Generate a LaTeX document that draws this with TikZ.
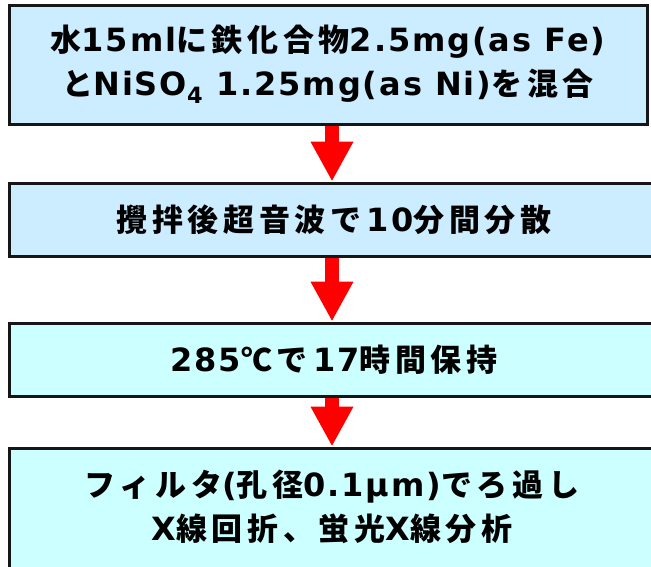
\documentclass[tikz,border=0pt]{standalone}
\usepackage{fontspec}
\setmainfont{DejaVu Sans}[LetterSpace=6]
\newfontfamily\jp{Noto Sans CJK JP}[LetterSpace=15]
\newcommand\J[1]{{\jp\fontsize{31}{44}\selectfont #1}}
\usetikzlibrary{arrows.meta,backgrounds}
\definecolor{boxblue}{HTML}{CCECFF}
\definecolor{boxcyan}{HTML}{CCFFFF}
\definecolor{edge}{HTML}{161616}
\tikzset{
  stepfont/.style={font=\bfseries\fontsize{32}{44}\selectfont},
  stepbox/.style={draw=edge, line width=3pt, align=center, inner sep=0pt, stepfont},
  blockarrow/.style={draw=red, line width=14pt,
    -{Triangle[width=40pt,length=40pt,fill=red]}}
}
\begin{document}
\begin{tikzpicture}[x=1pt,y=-1pt]
\useasboundingbox (0,0) rectangle (651,566);
\clip (0,0) rectangle (651,566);
\node[stepbox, fill=boxblue, minimum width=638pt, minimum height=119pt] (b1) at (328,64.5)
  {\J{水}15ml\J{に鉄化合物}2.5mg(as Fe)\\\J{と}NiSO\textsubscript{4} 1.25mg(as Ni)\J{を混合}};
\node[stepbox, fill=boxblue, minimum width=650pt, minimum height=73pt] (b2) at (334,219.5)
  {\J{攪拌後超音波で}\,10\J{分間分散}};
\node[stepbox, fill=boxcyan, minimum width=650pt, minimum height=73pt] (b3) at (334,359.5)
  {285\J{℃で}\,17\J{時間保持}};
\node[stepbox, fill=boxcyan, minimum width=650pt, minimum height=140pt] (b4) at (334,518)
  {};
\node[stepfont, align=center, inner sep=0pt] (t4) at (332,507)
  {\J{フィルタ}(\J{孔径}0.1μm)\J{でろ過し}\\X\J{線回折、蛍光}X\J{線分析}};
\begin{scope}[on background layer]
\draw[blockarrow] (b1.south -| 332,0) -- (b2.north -| 332,0);
\draw[blockarrow] (b2.south -| 332,0) -- (b3.north -| 332,0);
\draw[blockarrow] (b3.south -| 332,0) -- (b4.north -| 332,0);
\end{scope}
\end{tikzpicture}
\end{document}
